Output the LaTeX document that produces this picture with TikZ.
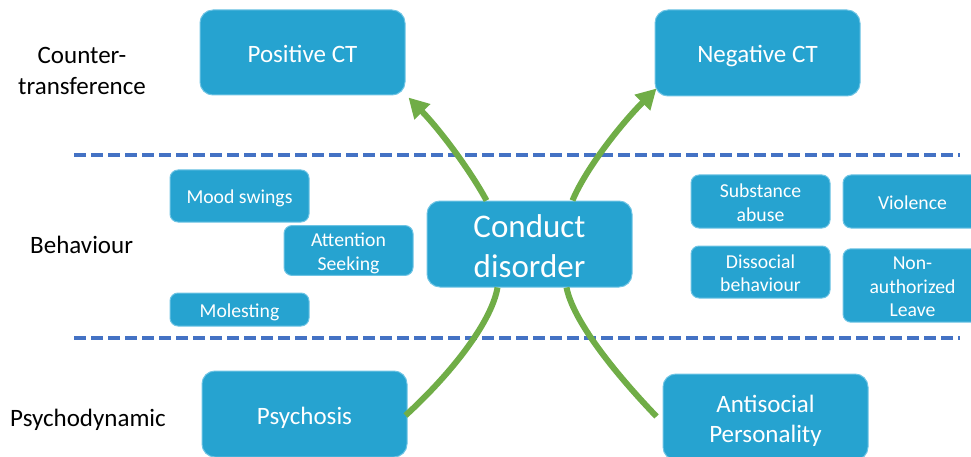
\documentclass[tikz,border=0pt]{standalone}
\usepackage{fontspec}
\setmainfont{Carlito}
\usetikzlibrary{arrows.meta,calc}
\definecolor{boxblue}{RGB}{38,163,208}
\definecolor{boxedge}{RGB}{110,196,228}
\definecolor{dashblue}{RGB}{68,114,196}
\definecolor{arrgreen}{RGB}{112,173,71}
\newcommand\tstr{\rule{0pt}{1.07em}}
\newcommand\bstr{\rule[-0.27em]{0pt}{0pt}}
\tikzset{
  bigbox/.style={rectangle, rounded corners=13pt, fill=boxblue, draw=boxedge, line width=1pt,
    text=white, align=center, inner sep=0pt, font=\fontsize{25}{30}\selectfont},
  smallbox/.style={rectangle, rounded corners=8pt, fill=boxblue, draw=boxedge, line width=1pt,
    text=white, align=center, inner sep=0pt, font=\fontsize{19.7}{23.5}\selectfont},
  sidelabel/.style={inner sep=0pt, font=\fontsize{25}{31}\selectfont},
  sep/.style={dashblue, line width=4pt, dash pattern=on 12pt off 5pt},
  garrow/.style={arrgreen, line width=6pt, -{Triangle[length=20pt,width=21pt]}},
  gline/.style={arrgreen, line width=6pt},
}
\begin{document}
\begin{tikzpicture}[x=1pt,y=-1pt]
\useasboundingbox (0,0) rectangle (971,457);
\clip (0,0) rectangle (971,457);
% separators
\coordinate (s1a) at (74,155); \coordinate (s1b) at (960,155);
\coordinate (s2a) at (74,338); \coordinate (s2b) at (960,338);
\draw[sep] (s1a) -- (s1b);
\draw[sep] (s2a) -- (s2b);
% side labels
\node[sidelabel, align=center] (lct) at (82,71) {Counter-\\transference};
\node[sidelabel, anchor=west] (lbeh) at (30,245) {Behaviour};
\node[sidelabel, anchor=west] (lpsy) at (10,420) {Psychodynamic};
% main boxes
\node[bigbox, minimum width=205pt, minimum height=85pt] (pos) at (302.5,52.5) {\tstr Positive CT\bstr};
\node[bigbox, minimum width=205pt, minimum height=86pt] (neg) at (757.5,53) {\tstr Negative CT\bstr};
\node[bigbox, minimum width=205pt, minimum height=86pt, font=\fontsize{33}{40}\selectfont] (cd) at (529.5,244) {\tstr Conduct\\disorder\bstr};
\node[bigbox, minimum width=205pt, minimum height=86pt] (psy) at (304.5,414) {\tstr Psychosis\bstr};
\node[bigbox, minimum width=205pt, minimum height=86pt] (anti) at (765.5,417) {\tstr Antisocial\\Personality\bstr};
% behaviour boxes
\node[smallbox, minimum width=139pt, minimum height=52pt] (mood) at (239.5,196) {\tstr Mood swings\bstr};
\node[smallbox, minimum width=129pt, minimum height=49pt] (att) at (348.5,250.5) {\tstr Attention\\Seeking\bstr};
\node[smallbox, minimum width=139pt, minimum height=33pt] (mol) at (239.5,309.5) {\tstr Molesting\bstr};
\node[smallbox, minimum width=139pt, minimum height=53pt] (sub) at (760.5,201.5) {\tstr Substance\\abuse\bstr};
\node[smallbox, minimum width=139pt, minimum height=53pt] (vio) at (912.5,201.5) {\tstr Violence\bstr};
\node[smallbox, minimum width=139pt, minimum height=52pt] (dis) at (760.5,272) {\tstr Dissocial\\behaviour\bstr};
\node[smallbox, minimum width=139pt, minimum height=73pt] (non) at (912.5,285.5) {\tstr Non-\\authorized\\Leave\bstr};
% green connectors
\draw[garrow] ($(cd.north west)+(60,0)$) .. controls (470,170) and (440,130) .. ($(pos.south east)+(3,2)$);
\draw[garrow] ($(cd.north west)+(146,0)$) .. controls (585,170) and (620,125) .. ($(neg.south west)+(2,-8)$);
\draw[gline] ($(cd.south west)+(71,0)$) .. controls (492,320) and (455,370) .. ($(psy.south east)+(-2,-42)$);
\draw[gline] ($(cd.south west)+(140,0)$) .. controls (573,320) and (612,370) .. ($(anti.south west)+(-6,-44)$);
\end{tikzpicture}
\end{document}
